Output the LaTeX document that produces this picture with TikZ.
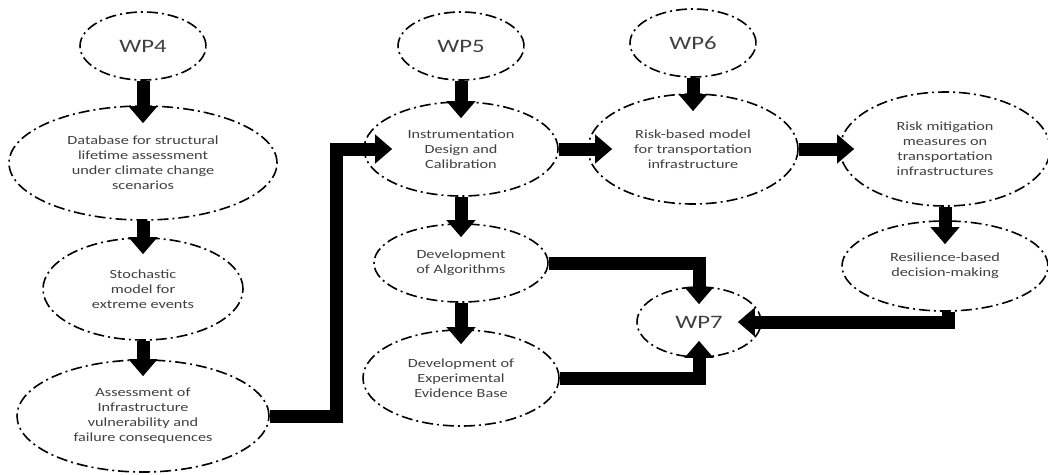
\documentclass[tikz,border=0pt]{standalone}
\usepackage{fontspec}
\setmainfont{Carlito}[FakeStretch=1.3]
\usepackage{tikz}
\usetikzlibrary{arrows.meta, positioning, shapes.geometric}
\usepackage{xcolor}

\begin{document}
\begin{tikzpicture}[
    x=1pt, y=-1pt,
    oval/.style={ellipse, draw=black, line width=1.6pt, inner sep=0pt, align=center,
        dash pattern=on 11pt off 4pt on 2pt off 4pt, text=black!75,
        font=\fontsize{12.5}{15}\selectfont},
    wp node/.style={oval, minimum width=126pt, minimum height=68pt, font=\fontsize{19}{22}\selectfont},
    block arrow/.style={line width=13pt, draw=black, -{Triangle[width=28pt,length=17pt]}, shorten >=-17pt}
]
    \useasboundingbox (0,0) rectangle (1048,474);

    % Work packages
    \node[wp node] (WP4) at (143, 46) {WP4};
    \node[wp node] (WP5) at (461, 46) {WP5};
    \node[wp node] (WP6) at (693, 43) {WP6};
    \node[wp node, minimum width=124pt, minimum height=70pt] (WP7) at (699, 322) {WP7};

    % Left column
    \node[oval, minimum width=268pt, minimum height=114pt] (DB) at (143, 163)
        {Database for structural\\lifetime assessment\\under climate change\\scenarios};
    \node[oval, minimum width=200pt, minimum height=102pt] (SM) at (143, 289)
        {Stochastic\\model for\\extreme events};
    \node[oval, minimum width=252pt, minimum height=112pt] (AV) at (143, 416)
        {Assessment of\\Infrastructure\\vulnerability and\\failure consequences};

    % Middle column
    \node[oval, minimum width=194pt, minimum height=94pt] (IDC) at (461, 149)
        {Instrumentation\\Design and\\Calibration};
    \node[oval, minimum width=174pt, minimum height=78pt] (DA) at (461, 263)
        {Development\\of Algorithms};
    \node[oval, minimum width=196pt, minimum height=96pt] (DE) at (461, 378)
        {Development of\\Experimental\\Evidence Base};

    % Right part
    \node[oval, minimum width=210pt, minimum height=110pt] (RM) at (693, 149)
        {Risk-based model\\for transportation\\infrastructure};
    \node[oval, minimum width=210pt, minimum height=114pt] (MM) at (945, 149)
        {Risk mitigation\\measures on\\transportation\\infrastructures};
    \node[oval, minimum width=206pt, minimum height=90pt] (RD) at (945, 266)
        {Resilience-based\\decision-making};

    % Arrows
    \draw[block arrow, shorten >=-18pt] (WP4) -- (DB);
    \draw[block arrow] (DB) -- (SM);
    \draw[block arrow] (SM) -- (AV);
    \draw[block arrow, shorten >=0pt] (AV.east) -| ([xshift=-27pt]IDC.west) -- ([xshift=29pt]IDC.west);
    \draw[block arrow] (WP5) -- (IDC);
    \draw[block arrow, shorten >=-25pt] (IDC) -- (RM);
    \draw[block arrow, shorten >=-18pt] (WP6) -- (RM);
    \draw[block arrow, shorten >=-15pt] (RM) -- (MM);
    \draw[block arrow, shorten >=-24pt] (MM) -- (RD);
    \draw[block arrow, shorten >=-14pt] (IDC) -- (DA);
    \draw[block arrow, shorten >=-15pt] (DA) -- (DE);
    \draw[block arrow, shorten >=-18pt] (DA.east) -| (WP7);
    \draw[block arrow] (DE.east) -| (WP7);
    \draw[block arrow, shorten >=-24pt] ([xshift=3pt]RD.south) |- (WP7);
\end{tikzpicture}
\end{document}
